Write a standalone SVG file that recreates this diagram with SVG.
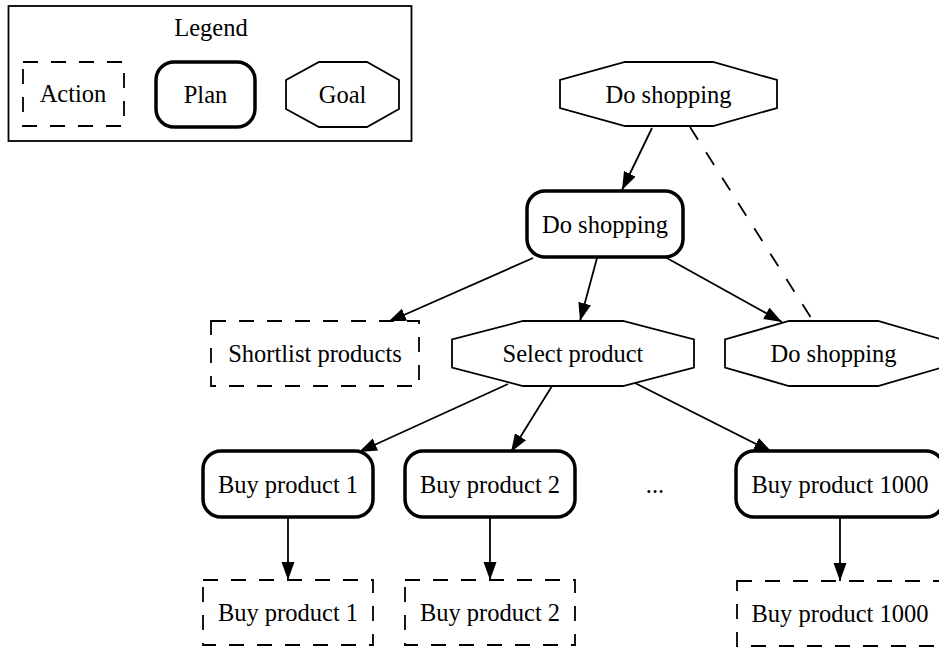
<svg xmlns="http://www.w3.org/2000/svg" width="939" height="648" viewBox="0 0 939 648">
<style>
text{font-family:"Liberation Serif","Times New Roman",serif;font-size:24.5px;fill:#000;text-anchor:middle}
.goal{fill:#fff;stroke:#000;stroke-width:1.8}
.plan{fill:#fff;stroke:#000;stroke-width:3.5}
.action{fill:#fff;stroke:#000;stroke-width:1.8;stroke-dasharray:15,13}
.edge{fill:none;stroke:#000;stroke-width:1.8}
.dashed{stroke-dasharray:15,15}
</style>
<defs>
<marker id="arr" markerUnits="userSpaceOnUse" markerWidth="20" markerHeight="14" refX="18" refY="6.5" orient="auto">
<path d="M0,0 L18,6.5 L0,13 z" fill="#000"/>
</marker>
</defs>
<rect width="939" height="648" fill="#fff"/>
<g id="legend">
<rect x="8.5" y="6" width="403" height="135" fill="#fff" stroke="#000" stroke-width="1.8"/>
<text x="211" y="36">Legend</text>
<g id="legend-action"><rect class="action" x="23" y="62" width="101" height="64"/><text x="73" y="102">Action</text></g>
<g id="legend-plan"><rect class="plan" x="156" y="62" width="99" height="65" rx="18"/><text x="205.5" y="103">Plan</text></g>
<g id="legend-goal"><polygon class="goal" points="319,62 367,62 399,80 399,109 367,127 319,127 286,109 286,80"/><text x="342.5" y="103">Goal</text></g>
</g>
<g id="connectors">
<line class="edge" x1="652" y1="128" x2="622" y2="190" marker-end="url(#arr)"/>
<line class="edge dashed" x1="690" y1="127" x2="813" y2="321"/>
<line class="edge" x1="533" y1="258" x2="388" y2="322" marker-end="url(#arr)"/>
<line class="edge" x1="597" y1="258" x2="580" y2="321" marker-end="url(#arr)"/>
<line class="edge" x1="665" y1="257" x2="782" y2="322" marker-end="url(#arr)"/>
<line class="edge" x1="508" y1="384" x2="359" y2="452" marker-end="url(#arr)"/>
<line class="edge" x1="552" y1="386" x2="511" y2="452" marker-end="url(#arr)"/>
<line class="edge" x1="635" y1="383" x2="772" y2="452" marker-end="url(#arr)"/>
<line class="edge" x1="288" y1="518" x2="288" y2="580" marker-end="url(#arr)"/>
<line class="edge" x1="490" y1="518" x2="490" y2="580" marker-end="url(#arr)"/>
<line class="edge" x1="840" y1="518" x2="840" y2="581" marker-end="url(#arr)"/>
</g>
<g id="goal-top"><polygon class="goal" points="625,62 713,62 777,80 777,108 713,126 625,126 560,108 560,80"/><text x="668.5" y="103">Do shopping</text></g>
<g id="plan-shopping"><rect class="plan" x="527" y="191" width="156" height="66" rx="18"/><text x="605" y="233">Do shopping</text></g>
<g id="action-shortlist"><rect class="action" x="211" y="321" width="208" height="65"/><text x="315" y="362">Shortlist products</text></g>
<g id="goal-select"><polygon class="goal" points="523,321 623,321 694,339.5 694,367.5 623,386 523,386 452,367.5 452,339.5"/><text x="573" y="362">Select product</text></g>
<g id="goal-shopping-right"><polygon class="goal" points="789,321 878,321 942,339.5 942,367.5 878,386 789,386 725,367.5 725,339.5"/><text x="833.5" y="362">Do shopping</text></g>
<g id="plan-buy1"><rect class="plan" x="203" y="451" width="170" height="66" rx="18"/><text x="288" y="493">Buy product 1</text></g>
<g id="plan-buy2"><rect class="plan" x="405" y="451" width="170" height="66" rx="18"/><text x="490" y="493">Buy product 2</text></g>
<g id="ellipsis"><text x="655" y="493">...</text></g>
<g id="plan-buy1000"><rect class="plan" x="736" y="451" width="208" height="66" rx="18"/><text x="840" y="493">Buy product 1000</text></g>
<g id="action-buy1"><rect class="action" x="203" y="580" width="170" height="65"/><text x="288" y="621">Buy product 1</text></g>
<g id="action-buy2"><rect class="action" x="405" y="580" width="170" height="65"/><text x="490" y="621">Buy product 2</text></g>
<g id="action-buy1000"><rect class="action" x="737" y="581" width="206" height="65"/><text x="840" y="622">Buy product 1000</text></g>
</svg>
